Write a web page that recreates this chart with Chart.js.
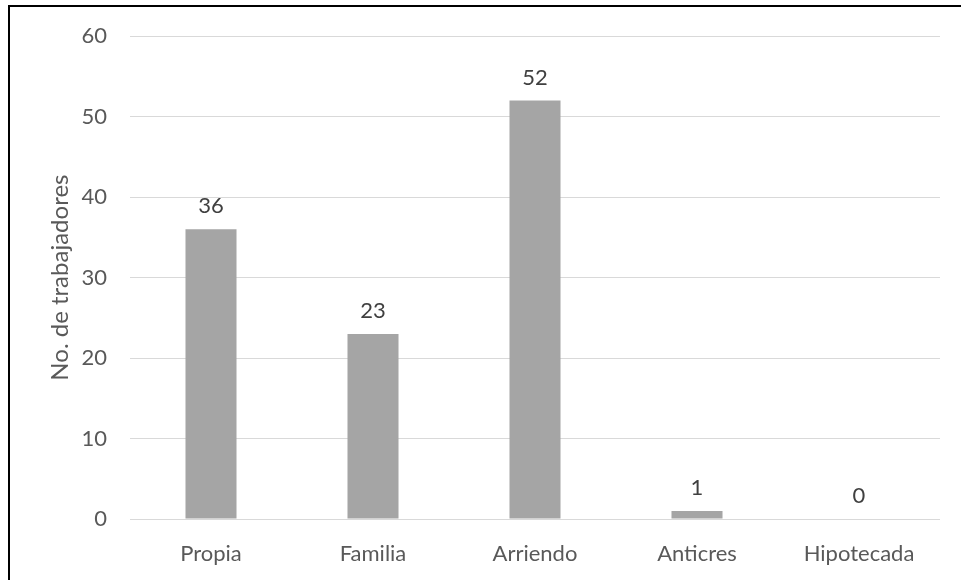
<!DOCTYPE html>
<html>
<head>
<meta charset="utf-8">
<script src="https://cdn.jsdelivr.net/npm/chart.js@4.4.1/dist/chart.umd.min.js"></script>
<style>
  html, body { margin: 0; padding: 0; background: #fff; }
  #wrap { position: relative; width: 961px; height: 580px; overflow: hidden; }
  #frame {
    position: absolute; left: 8px; top: 5px; width: 1000px; height: 700px;
    border-left: 2px solid #000; border-top: 2px solid #000;
  }
  canvas { position: absolute; left: 0; top: 0; }
</style>
</head>
<body>
<div id="wrap">
  <div id="frame"></div>
  <canvas id="myChart" width="961" height="580"></canvas>
</div>
<script>
// tenencia de vivienda
const categories = ['Propia', 'Familia', 'Arriendo', 'Anticres', 'Hipotecada'];
const workers = [36, 23, 52, 1, 0];
const yTicks = [0, 10, 20, 30, 40, 50, 60];

const barColor = '#a5a5a5';
const textColor = '#595959';
const gridColor = '#d9d9d9';
const fontFamily = 'Lato, "Open Sans", sans-serif';

// value written above each bar
const valueLabels = {
  id: 'valueLabels',
  afterDatasetsDraw(chart) {
    const { ctx } = chart;
    const meta = chart.getDatasetMeta(0);
    ctx.save();
    ctx.font = '22px ' + fontFamily;
    ctx.fillStyle = '#404040';
    ctx.textAlign = 'center';
    ctx.textBaseline = 'middle';
    meta.data.forEach((bar, i) => {
      ctx.fillText(String(workers[i]), bar.x, bar.y - 23);
    });
    ctx.restore();
  }
};

const ctx = document.getElementById('myChart').getContext('2d');
const myChart = new Chart(ctx, {
  type: 'bar',
  data: {
    labels: categories,
    datasets: [{
      data: workers,
      backgroundColor: barColor,
      borderWidth: 0,
      barPercentage: 0.315,
      categoryPercentage: 1.0
    }]
  },
  options: {
    responsive: false,
    animation: false,
    layout: { padding: { left: 0, right: 21, top: 24, bottom: 0 } },
    plugins: {
      legend: { display: false },
      tooltip: { enabled: false }
    },
    scales: {
      x: {
        grid: { display: false },
        border: { display: false },
        ticks: {
          color: textColor,
          font: { family: fontFamily, size: 22 },
          padding: 14
        },
        afterFit(scale) { scale.height = 580 - 519; }
      },
      y: {
        min: 0,
        max: 60,
        afterBuildTicks(scale) { scale.ticks = yTicks.map(v => ({ value: v })); },
        grid: { color: gridColor, lineWidth: 1, drawTicks: false },
        border: { display: false },
        ticks: {
          color: textColor,
          font: { family: fontFamily, size: 22 },
          padding: 23
        },
        title: {
          display: true,
          text: 'No. de trabajadores',
          color: textColor,
          font: { family: fontFamily, size: 24 },
          padding: { top: 46, bottom: 0 }
        },
        afterFit(scale) { scale.width = 130; }
      }
    }
  },
  plugins: [valueLabels]
});
</script>
</body>
</html>
